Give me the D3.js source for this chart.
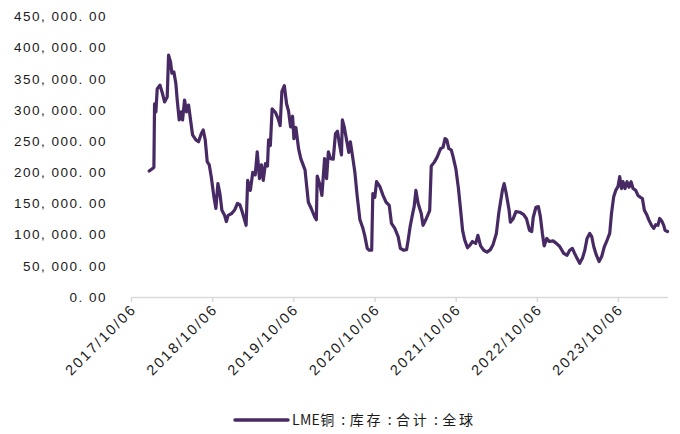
<!DOCTYPE html>
<html>
<head>
<meta charset="utf-8">
<script src="https://cdn.jsdelivr.net/npm/d3@7/dist/d3.min.js"></script>
<style>
  html, body { margin: 0; padding: 0; background: #ffffff; }
  svg { display: block; }
  .num { font-family: "Liberation Sans", Arial, sans-serif; font-size: 13.5px; letter-spacing: 1.5px; fill: #1a1a1a; }
  .xlab { font-family: "Liberation Sans", Arial, sans-serif; font-size: 14.5px; letter-spacing: 2.1px; fill: #1a1a1a; }
  .legend-text { font-family: "Noto Sans CJK SC", sans-serif; font-size: 14px; fill: #1a1a1a; }
</style>
</head>
<body>
<svg id="chart" width="680" height="434"></svg>
<script>
// LME copper stock, total, global (tonnes)
const seriesName = "LME铜:库存:合计:全球";

const dates = [
  "2017-12-27","2018-01-11","2018-01-17","2018-01-20","2018-01-26","2018-02-01","2018-02-13","2018-02-25",
  "2018-03-06","2018-03-18","2018-03-24","2018-04-02","2018-04-08","2018-04-17","2018-04-26","2018-05-02",
  "2018-05-11","2018-05-20","2018-05-26","2018-06-04","2018-06-13","2018-06-22","2018-07-01","2018-07-10",
  "2018-07-25","2018-08-06","2018-08-18","2018-08-27","2018-09-05","2018-09-14","2018-09-23","2018-10-02",
  "2018-10-14","2018-10-23","2018-11-01","2018-11-10","2018-11-19","2018-12-01","2018-12-09","2018-12-17",
  "2019-01-02","2019-01-16","2019-01-28","2019-02-08","2019-02-19","2019-03-08","2019-03-15","2019-03-27",
  "2019-04-07","2019-04-18","2019-04-27","2019-05-07","2019-05-16","2019-05-24","2019-06-03","2019-06-12",
  "2019-06-17","2019-06-25","2019-07-03","2019-07-18","2019-07-31","2019-08-08","2019-08-16","2019-08-27",
  "2019-09-06","2019-09-15","2019-09-24","2019-10-03","2019-10-09","2019-10-18","2019-10-30","2019-11-09",
  "2019-11-28","2019-12-13","2019-12-26","2020-01-11","2020-01-18","2020-01-22","2020-02-03","2020-02-12",
  "2020-02-24","2020-03-04","2020-03-12","2020-03-22","2020-04-03","2020-04-13","2020-04-22","2020-05-01",
  "2020-05-10","2020-05-14","2020-05-23","2020-06-03","2020-06-12","2020-06-19","2020-06-28","2020-07-09",
  "2020-07-20","2020-08-01","2020-08-13","2020-08-23","2020-09-03","2020-09-12","2020-09-23","2020-09-28",
  "2020-10-07","2020-10-15","2020-10-30","2020-11-13","2020-11-27","2020-12-11","2020-12-21","2021-01-05",
  "2021-01-20","2021-01-30","2021-02-14","2021-02-27","2021-03-06","2021-03-15","2021-03-27","2021-04-02",
  "2021-04-10","2021-04-20","2021-05-04","2021-05-12","2021-05-27","2021-06-08","2021-06-11","2021-06-18",
  "2021-07-01","2021-07-14","2021-07-23","2021-07-30","2021-08-10","2021-08-19","2021-08-27","2021-09-05",
  "2021-09-16","2021-09-25","2021-10-07","2021-10-18","2021-10-28","2021-11-06","2021-11-15","2021-11-28",
  "2021-12-11","2021-12-20","2022-01-04","2022-01-14","2022-01-26","2022-02-09","2022-02-24","2022-03-11",
  "2022-03-23","2022-04-07","2022-04-18","2022-05-04","2022-05-12","2022-05-22","2022-06-03","2022-06-09",
  "2022-06-21","2022-07-04","2022-07-21","2022-08-08","2022-08-20","2022-09-03","2022-09-13","2022-09-20",
  "2022-10-02","2022-10-13","2022-10-22","2022-10-31","2022-11-08","2022-11-20","2022-12-01","2022-12-18",
  "2023-01-02","2023-01-17","2023-02-04","2023-02-19","2023-03-03","2023-03-15","2023-03-25","2023-04-05",
  "2023-04-17","2023-04-29","2023-05-10","2023-05-20","2023-06-01","2023-06-10","2023-06-19","2023-07-01",
  "2023-07-13","2023-07-25","2023-08-06","2023-08-18","2023-08-30","2023-09-07","2023-09-17","2023-09-26",
  "2023-10-06","2023-10-14","2023-10-22","2023-10-29","2023-11-07","2023-11-16","2023-11-25","2023-12-04",
  "2023-12-13","2023-12-25","2024-01-04","2024-01-15","2024-01-24","2024-02-02","2024-02-14","2024-02-23",
  "2024-03-05","2024-03-15","2024-03-24","2024-04-03","2024-04-11","2024-04-20","2024-04-29","2024-05-05",
  "2024-05-16"
];

const stocks = [
  202000,206000,208000,310000,297000,334000,340000,326000,
  313000,321000,388000,377000,359000,361000,342000,316000,
  284000,297000,284000,316000,297000,308000,284000,260000,
  252000,249000,262000,268000,252000,217000,212000,193000,
  161000,142000,182000,166000,139000,131000,121000,131000,
  134000,140000,150000,148000,136000,115000,187000,171000,
  200000,196000,233000,190000,212000,187000,214000,210000,
  252000,243000,302000,296000,285000,275000,330000,339000,
  310000,298000,273000,290000,254000,272000,238000,222000,
  204000,152000,142000,128000,124000,194000,180000,163000,
  222000,190000,233000,222000,221000,262000,266000,245000,
  228000,284000,272000,250000,232000,249000,228000,201000,
  161000,124000,112000,98000,78000,75000,75000,166000,
  160000,185000,177000,163000,152000,147000,118000,110000,
  97000,78000,75000,76000,91000,113000,135000,145000,
  171000,150000,134000,115000,126000,136000,139000,210000,
  216000,224000,232000,238000,240000,254000,252000,238000,
  236000,224000,205000,175000,140000,107000,92000,79000,
  84000,89000,86000,99000,82000,75000,72000,76000,
  84000,102000,135000,171000,182000,165000,140000,120000,
  125000,137000,136000,132000,126000,107000,105000,128000,
  144000,145000,129000,102000,82000,94000,89000,90000,
  86000,81000,70000,67000,75000,78000,70000,62000,
  54000,62000,75000,94000,102000,97000,81000,67000,
  57000,65000,81000,91000,102000,134000,161000,171000,
  177000,193000,174000,185000,174000,185000,176000,185000,
  174000,171000,163000,160000,158000,139000,131000,123000,
  115000,110000,116000,115000,126000,122000,115000,107000,
  105000
];

const xTickLabels = ["2017/10/06","2018/10/06","2019/10/06","2020/10/06","2021/10/06","2022/10/06","2023/10/06"];
const yTicks = [0, 50000, 100000, 150000, 200000, 250000, 300000, 350000, 400000, 450000];

const lineColor = "#472a63";
const axisColor = "#d9d9d9";

const parseDay = d3.timeParse("%Y-%m-%d");
const parseTick = d3.timeParse("%Y/%m/%d");
const fmtTick = d3.timeFormat("%Y/%m/%d");

const data = dates.map((d, i) => ({ date: parseDay(d), value: stocks[i] }));

const svg = d3.select("#chart");
svg.append("rect").attr("width", 680).attr("height", 434).attr("fill", "#ffffff");

const x = d3.scaleTime()
  .domain([parseTick(xTickLabels[0]), data[data.length - 1].date])
  .range([131, 667.5]);

const y = d3.scaleLinear()
  .domain([0, 450000])
  .range([297, 16.5]);

// value labels such as "450, 000. 00"
const fmtNum = v => d3.format(",.2f")(v).replace(/,/g, ", ").replace(".", ". ");

// y axis: labels only
const yAxis = svg.append("g")
  .attr("transform", "translate(131,0)")
  .call(d3.axisLeft(y).tickValues(yTicks).tickSize(0).tickPadding(24).tickFormat(fmtNum));
yAxis.select(".domain").remove();
yAxis.selectAll("text").attr("class", "num").attr("fill", null);

// x axis
const xAxis = svg.append("g")
  .attr("transform", "translate(0,297)")
  .call(d3.axisBottom(x).tickValues(xTickLabels.map(parseTick)).tickSizeInner(5).tickSizeOuter(0).tickFormat(fmtTick));
xAxis.select(".domain").attr("stroke", axisColor).attr("stroke-width", 1.5);
xAxis.selectAll(".tick line").attr("stroke", axisColor).attr("stroke-width", 1.5);
xAxis.selectAll("text")
  .attr("class", "xlab")
  .attr("fill", null)
  .attr("x", 0).attr("y", 0).attr("dy", 0)
  .attr("text-anchor", "end")
  .attr("transform", "translate(6,13) rotate(-45)");

// stock line
const line = d3.line()
  .x(d => x(d.date))
  .y(d => y(d.value))
  .curve(d3.curveLinear);

svg.append("path")
  .datum(data)
  .attr("fill", "none")
  .attr("stroke", lineColor)
  .attr("stroke-width", 3.2)
  .attr("stroke-linejoin", "round")
  .attr("stroke-linecap", "round")
  .attr("d", line);

// legend: latin run tight, CJK runs spaced, colons padded
const legend = svg.append("g").attr("transform", "translate(235,420)");
legend.append("line")
  .attr("x1", 0).attr("x2", 53).attr("y1", 0).attr("y2", 0)
  .attr("stroke", lineColor).attr("stroke-width", 3.5).attr("stroke-linecap", "round");
const legendText = legend.append("text")
  .attr("class", "legend-text")
  .attr("x", 57).attr("y", 0)
  .attr("dy", "0.36em");
seriesName.match(/[A-Za-z]+|:|[^A-Za-z:]+/g).forEach(tok => {
  const t = legendText.append("tspan").text(tok);
  if (tok === ":") t.attr("dx", 4.5).attr("letter-spacing", 4.5);
  else if (/^[A-Za-z]+$/.test(tok)) t.attr("letter-spacing", 0.3);
  else t.attr("letter-spacing", 2.7);
});
</script>
</body>
</html>
